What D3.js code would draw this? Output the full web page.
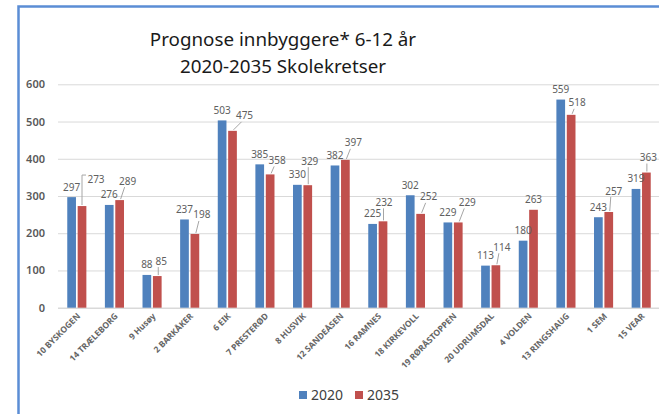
<!DOCTYPE html>
<html>
<head>
<meta charset="utf-8">
<script src="https://cdn.jsdelivr.net/npm/d3@7/dist/d3.min.js"></script>
<style>
  html, body { margin: 0; padding: 0; background: #fff; }
  svg { display: block; font-family: "Noto Sans", sans-serif; }
</style>
</head>
<body>
<svg id="chart" width="659" height="414"></svg>
<script>
// Chart data
const categories = ['10 BYSKOGEN', '14 TRÆLEBORG', '9 Husøy', '2 BARKÅKER', '6 EIK', '7 PRESTERØD',
  '8 HUSVIK', '12 SANDEÅSEN', '16 RAMNES', '18 KIRKEVOLL', '19 RØRÅSTOPPEN', '20 UDRUMSDAL',
  '4 VOLDEN', '13 RINGSHAUG', '1 SEM', '15 VEAR'];
const seriesNames = ['2020', '2035'];
const values2020 = [297, 276, 88, 237, 503, 385, 330, 382, 225, 302, 229, 113, 180, 559, 243, 319];
const values2035 = [273, 289, 85, 198, 475, 358, 329, 397, 232, 252, 229, 114, 263, 518, 257, 363];
const yTicks = [0, 100, 200, 300, 400, 500, 600];
const titleLines = ['Prognose innbyggere* 6-12 år', '2020-2035 Skolekretser'];

// moved 2035 labels (dragged in the original), offset from bar top in px
const labelShift2035 = [[14, -27], [8, -19], [4, -15], [7, -19], [12, -15], [7, -14], [2, -24], [8, -17],
  [1, -19], [8, -17], [9, -20], [6, -18], [0, -10], [6, -12], [5, -21], [2, -15]];

const colors = { '2020': '#4f81bd', '2035': '#c0504d' };
const margin = { top: 84.3, right: -1, bottom: 106.3, left: 58 };
const W = 659, H = 414;

const svg = d3.select('#chart');

// outer chart frame (runs off the right / bottom of the capture)
svg.append('rect')
  .attr('x', 18.5).attr('y', 6.5)
  .attr('width', 700).attr('height', 500)
  .attr('fill', 'none')
  .attr('stroke', '#5b8dd5')
  .attr('stroke-width', 2.5);

const x = d3.scaleBand()
  .domain(categories)
  .range([margin.left, W - margin.right])
  .padding(0);

const xSub = d3.scaleBand()
  .domain(seriesNames)
  .range([x.bandwidth() / 2 - 9.55, x.bandwidth() / 2 + 9.55])
  .paddingInner(0.163);

const y = d3.scaleLinear()
  .domain([0, 600])
  .range([H - margin.bottom, margin.top]);

// grid
svg.append('g').attr('class', 'grid')
  .selectAll('line')
  .data(yTicks)
  .join('line')
  .attr('x1', margin.left).attr('x2', W)
  .attr('y1', d => y(d) + 0.5).attr('y2', d => y(d) + 0.5)
  .attr('stroke', '#d9d9d9')
  .attr('stroke-width', d => d === 0 ? 1.5 : 1);

// y axis labels
const yAxis = d3.axisLeft(y).tickValues(yTicks).tickSize(0).tickPadding(0);
svg.append('g')
  .attr('transform', 'translate(45,0)')
  .call(yAxis)
  .call(g => g.select('.domain').remove())
  .selectAll('text')
  .attr('fill', '#595959')
  .style('font-size', '11px')
  .style('font-weight', '600')
  .style('font-family', '"Noto Sans", sans-serif');

// bars
const rows = categories.map((c, i) => ({ cat: c, i, vals: [values2020[i], values2035[i]] }));
const groups = svg.append('g').attr('class', 'bars')
  .selectAll('g')
  .data(rows)
  .join('g')
  .attr('transform', d => `translate(${x(d.cat)},0)`);

groups.selectAll('rect')
  .data(d => seriesNames.map((s, k) => ({ s, v: d.vals[k] })))
  .join('rect')
  .attr('x', d => xSub(d.s))
  .attr('width', xSub.bandwidth())
  .attr('y', d => y(d.v))
  .attr('height', d => y(0) - y(d.v))
  .attr('fill', d => colors[d.s]);

// data labels 2020
const lab = svg.append('g').attr('class', 'labels')
  .attr('fill', '#606060')
  .style('font-size', '10px');

lab.selectAll('text.l2020')
  .data(rows)
  .join('text')
  .attr('class', 'l2020')
  .attr('text-anchor', 'middle')
  .attr('x', d => x(d.cat) + xSub('2020') + xSub.bandwidth() / 2)
  .attr('y', d => y(d.vals[0]) - 6.5)
  .text(d => d.vals[0]);

// data labels 2035 with leader lines
const lead = svg.append('g').attr('class', 'leaders')
  .attr('stroke', '#a6a6a6').attr('fill', 'none').attr('stroke-width', 1);

rows.forEach(d => {
  const cx = x(d.cat) + xSub('2035') + xSub.bandwidth() / 2;
  const top = y(d.vals[1]);
  const [dx, dy] = labelShift2035[d.i];
  const lx = cx + dx, ly = top + dy;
  lab.append('text')
    .attr('text-anchor', 'middle')
    .attr('x', lx).attr('y', ly + 3.5)
    .text(d.vals[1]);
  if (dy > -12) return;
  if (dx > 12) {
    // bracket style leader
    lead.append('path')
      .attr('d', d3.line()([[cx, top - 1], [cx, ly - 4], [lx - 10, ly - 4]]));
  } else {
    const tx = dx < 3 ? cx + 0.5 : lx - 3;
    lead.append('path')
      .attr('d', d3.line()([[cx + (dx < 3 ? 0.5 : 1), top - 1], [tx, ly + 6]]));
  }
});

// x axis labels
svg.append('g').attr('class', 'xlabels')
  .selectAll('text')
  .data(categories)
  .join('text')
  .attr('transform', d => `translate(${x(d) + x.bandwidth() / 2 + 4},${y(0) + 9}) rotate(-45)`)
  .attr('text-anchor', 'end')
  .attr('fill', '#666')
  .style('font-size', '8.5px')
  .style('font-weight', '700')
  .text(d => d);

// title
svg.append('g').attr('class', 'title')
  .selectAll('text')
  .data(titleLines)
  .join('text')
  .attr('x', 283)
  .attr('y', (d, i) => 45.5 + i * 27.5)
  .attr('text-anchor', 'middle')
  .attr('fill', '#1a1a1a')
  .style('font-size', '18.8px')
  .text(d => d);

// legend
const legend = svg.append('g').attr('class', 'legend');
const legendX = [299, 355];
seriesNames.forEach((s, k) => {
  legend.append('rect')
    .attr('x', legendX[k]).attr('y', 391)
    .attr('width', 8).attr('height', 8)
    .attr('fill', colors[s]);
  legend.append('text')
    .attr('x', legendX[k] + 12).attr('y', 400)
    .attr('fill', '#404040')
    .style('font-size', '14px')
    .text(s);
});
</script>
</body>
</html>
